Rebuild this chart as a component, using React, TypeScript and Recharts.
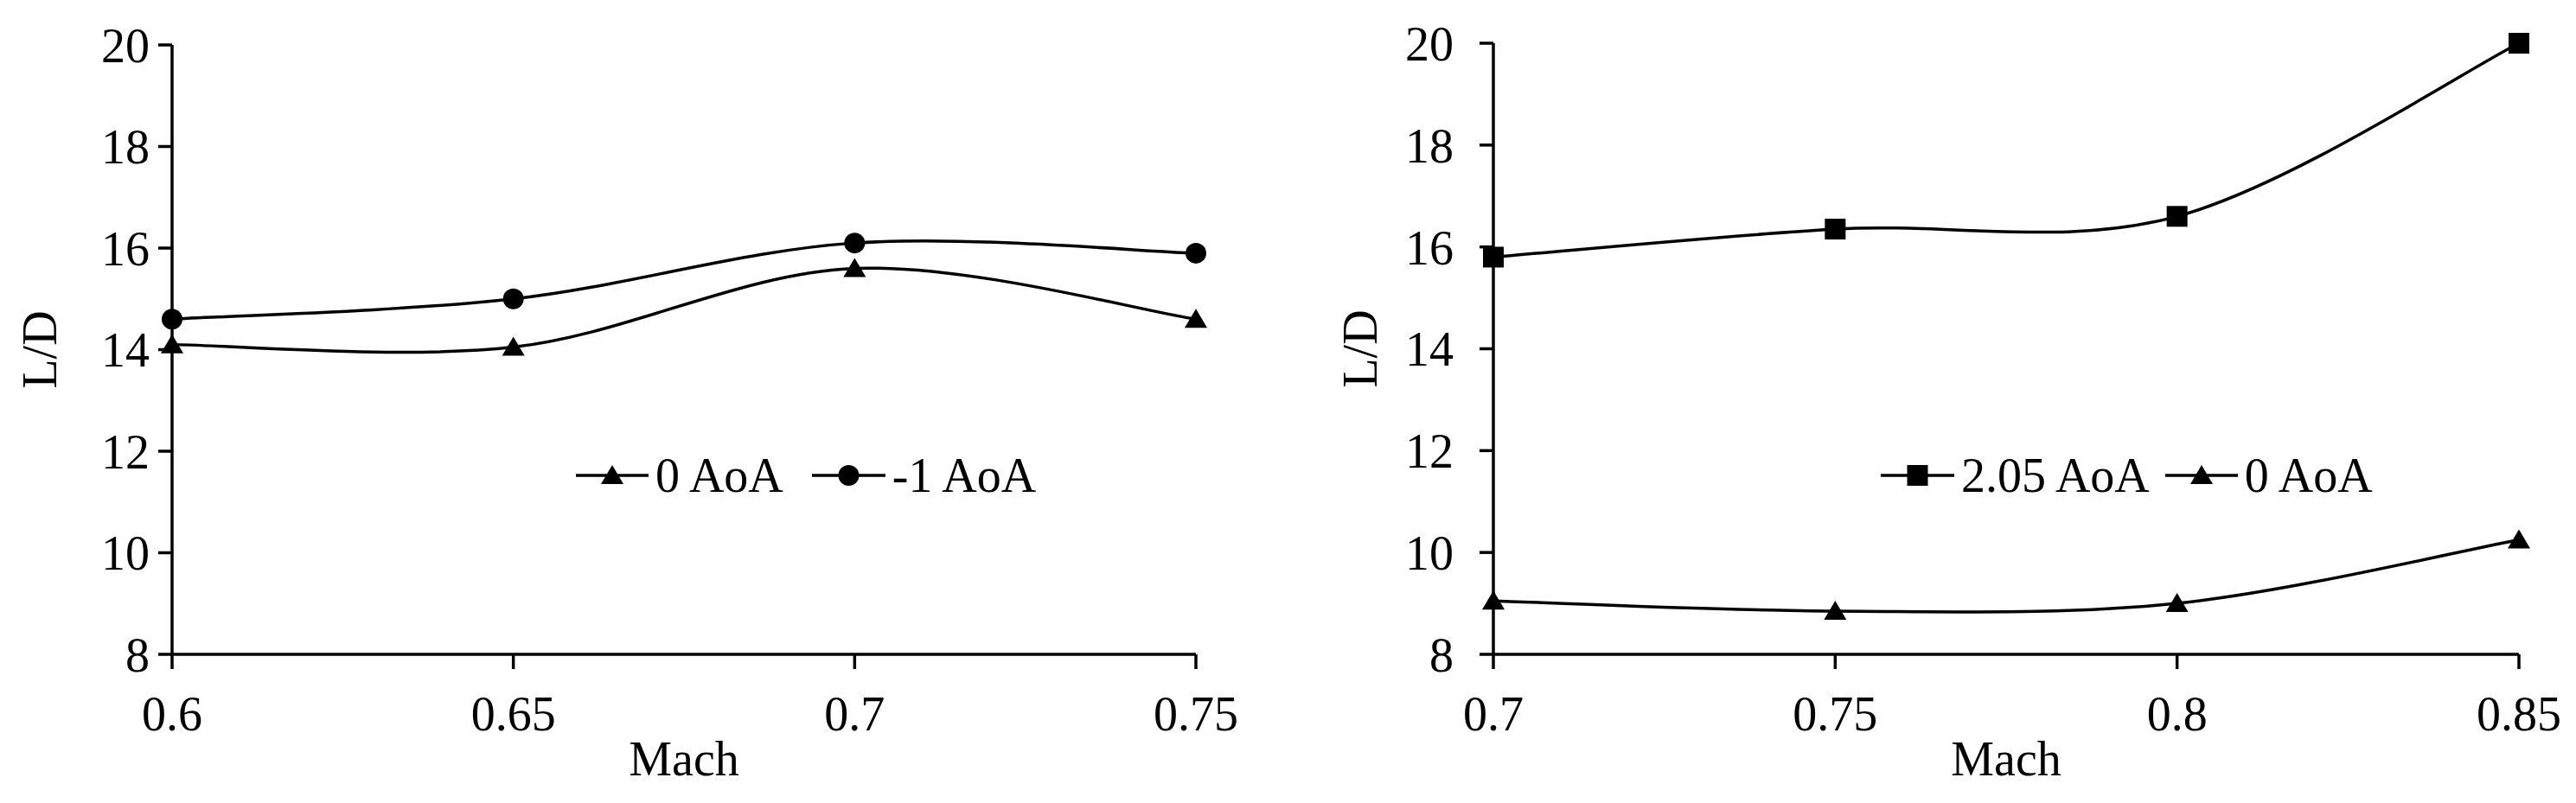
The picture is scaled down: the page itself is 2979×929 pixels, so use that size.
import React from 'react'
import { LineChart, Line, XAxis, YAxis, Legend } from 'recharts'

// Mach sweep, left panel
const leftMach = [0.6, 0.65, 0.7, 0.75]
const leftZeroAoA = [14.1, 14.05, 15.6, 14.6]
const leftMinusOneAoA = [14.6, 15.0, 16.1, 15.9]

// Mach sweep, right panel
const rightMach = [0.7, 0.75, 0.8, 0.85]
const rightTwoAoA = [15.8, 16.35, 16.6, 20.0]
const rightZeroAoA = [9.05, 8.85, 9.0, 10.25]

const ldTicks = [8, 10, 12, 14, 16, 18, 20]

const FONT = "'Liberation Serif', 'Times New Roman', serif"
const FS = 56
const STROKE = 3.5

const leftData = leftMach.map((m, i) => ({ mach: m, zero: leftZeroAoA[i], minusOne: leftMinusOneAoA[i] }))
const rightData = rightMach.map((m, i) => ({ mach: m, two: rightTwoAoA[i], zero: rightZeroAoA[i] }))

// Excel-like smoothed line (Catmull-Rom through the points)
function excelSmooth(context: any) {
  let pts: number[][] = []
  return {
    areaStart() {},
    areaEnd() {},
    lineStart() {
      pts = []
    },
    point(x: number, y: number) {
      pts.push([+x, +y])
    },
    lineEnd() {
      if (!pts.length) return
      context.moveTo(pts[0][0], pts[0][1])
      for (let i = 0; i < pts.length - 1; i++) {
        const p0 = pts[i - 1] || pts[i]
        const p1 = pts[i]
        const p2 = pts[i + 1]
        const p3 = pts[i + 2] || p2
        context.bezierCurveTo(
          p1[0] + (p2[0] - p0[0]) / 6,
          p1[1] + (p2[1] - p0[1]) / 6,
          p2[0] - (p3[0] - p1[0]) / 6,
          p2[1] - (p3[1] - p1[1]) / 6,
          p2[0],
          p2[1]
        )
      }
    },
  }
}

type Marker = 'triangle' | 'circle' | 'square'

function markerShape(kind: Marker, cx: number, cy: number, key?: string) {
  if (kind === 'circle') return <circle key={key} cx={cx} cy={cy} r={12} fill="#000" />
  if (kind === 'square') return <rect key={key} x={cx - 12} y={cy - 12} width={24} height={24} fill="#000" />
  return <path key={key} d={`M${cx},${cy - 12}L${cx + 13},${cy + 10}L${cx - 13},${cy + 10}Z`} fill="#000" />
}

const dotOf = (kind: Marker) => (props: any) => {
  const { cx, cy, index } = props
  return markerShape(kind, cx, cy, `m-${kind}-${index}`)
}

function LegendRow({ items, iconGap, itemGap }: { items: { label: string; marker: Marker; w: number }[]; iconGap: number; itemGap: number }) {
  return (
    <div style={{ display: 'flex', alignItems: 'center', fontFamily: FONT, fontSize: FS, lineHeight: 1, color: '#000', whiteSpace: 'nowrap' }}>
      {items.map((it, i) => (
        <div key={it.label} style={{ display: 'flex', alignItems: 'center', marginLeft: i ? itemGap : 0 }}>
          <svg width={it.w} height={56} style={{ marginRight: iconGap }}>
            <line x1={0} y1={28} x2={it.w} y2={28} stroke="#000" strokeWidth={STROKE} />
            {markerShape(it.marker, it.w / 2, 28)}
          </svg>
          <span>{it.label}</span>
        </div>
      ))}
    </div>
  )
}

const yLabel = (cx: number) => (props: any) => {
  const vb = props.viewBox || {}
  const cy = vb.y + vb.height / 2
  return (
    <text x={cx} y={cy} transform={`rotate(-90 ${cx} ${cy})`} textAnchor="middle" dominantBaseline="central" fill="#000" fontSize={FS} fontFamily={FONT}>
      L/D
    </text>
  )
}

const tickStyle = { fill: '#000', fontSize: FS, fontFamily: FONT }
const axisStyle = { stroke: '#000', strokeWidth: STROKE }

export default function App() {
  return (
    <div style={{ position: 'absolute', left: 0, top: 0, width: 2979, height: 929, background: '#fff' }}>
      <div style={{ position: 'absolute', left: 0, top: 0 }}>
        <LineChart width={1450} height={929} data={leftData} margin={{ top: 52, right: 67, left: 0, bottom: 0 }}>
          <XAxis
            dataKey="mach"
            type="number"
            domain={[0.6, 0.75]}
            ticks={leftMach}
            interval={0}
            height={172}
            tickSize={17}
            tickMargin={31}
            tick={tickStyle}
            axisLine={axisStyle}
            tickLine={axisStyle}
            label={{ value: 'Mach', position: 'insideBottom', offset: 32, fill: '#000', fontSize: FS, fontFamily: FONT }}
          />
          <YAxis
            type="number"
            domain={[8, 20]}
            ticks={ldTicks}
            interval={0}
            width={199}
            tickSize={16}
            tickMargin={10}
            tick={tickStyle}
            axisLine={axisStyle}
            tickLine={axisStyle}
            label={yLabel(46)}
          />
          <Legend
            layout="horizontal"
            align="center"
            verticalAlign="middle"
            wrapperStyle={{ left: 666, top: 522, width: 'auto', height: 'auto' }}
            content={() => (
              <LegendRow
                iconGap={8}
                itemGap={33}
                items={[
                  { label: '0 AoA', marker: 'triangle', w: 84 },
                  { label: '-1 AoA', marker: 'circle', w: 85 },
                ]}
              />
            )}
          />
          <Line dataKey="zero" name="0 AoA" type={excelSmooth as any} stroke="#000" strokeWidth={STROKE} dot={dotOf('triangle')} activeDot={false} isAnimationActive={false} />
          <Line dataKey="minusOne" name="-1 AoA" type={excelSmooth as any} stroke="#000" strokeWidth={STROKE} dot={dotOf('circle')} activeDot={false} isAnimationActive={false} />
        </LineChart>
      </div>
      <div style={{ position: 'absolute', left: 1500, top: 0 }}>
        <LineChart width={1479} height={929} data={rightData} margin={{ top: 50, right: 66, left: 0, bottom: 0 }}>
          <XAxis
            dataKey="mach"
            type="number"
            domain={[0.7, 0.85]}
            ticks={rightMach}
            interval={0}
            height={172}
            tickSize={17}
            tickMargin={31}
            tick={tickStyle}
            axisLine={axisStyle}
            tickLine={axisStyle}
            label={{ value: 'Mach', position: 'insideBottom', offset: 32, fill: '#000', fontSize: FS, fontFamily: FONT }}
          />
          <YAxis
            type="number"
            domain={[8, 20]}
            ticks={ldTicks}
            interval={0}
            width={227}
            tickSize={16}
            tickMargin={30}
            tick={tickStyle}
            axisLine={axisStyle}
            tickLine={axisStyle}
            label={yLabel(73)}
          />
          <Legend
            layout="horizontal"
            align="center"
            verticalAlign="middle"
            wrapperStyle={{ left: 675, top: 522, width: 'auto', height: 'auto' }}
            content={() => (
              <LegendRow
                iconGap={8}
                itemGap={18}
                items={[
                  { label: '2.05 AoA', marker: 'square', w: 85 },
                  { label: '0 AoA', marker: 'triangle', w: 84 },
                ]}
              />
            )}
          />
          <Line dataKey="two" name="2.05 AoA" type={excelSmooth as any} stroke="#000" strokeWidth={STROKE} dot={dotOf('square')} activeDot={false} isAnimationActive={false} />
          <Line dataKey="zero" name="0 AoA" type={excelSmooth as any} stroke="#000" strokeWidth={STROKE} dot={dotOf('triangle')} activeDot={false} isAnimationActive={false} />
        </LineChart>
      </div>
    </div>
  )
}
